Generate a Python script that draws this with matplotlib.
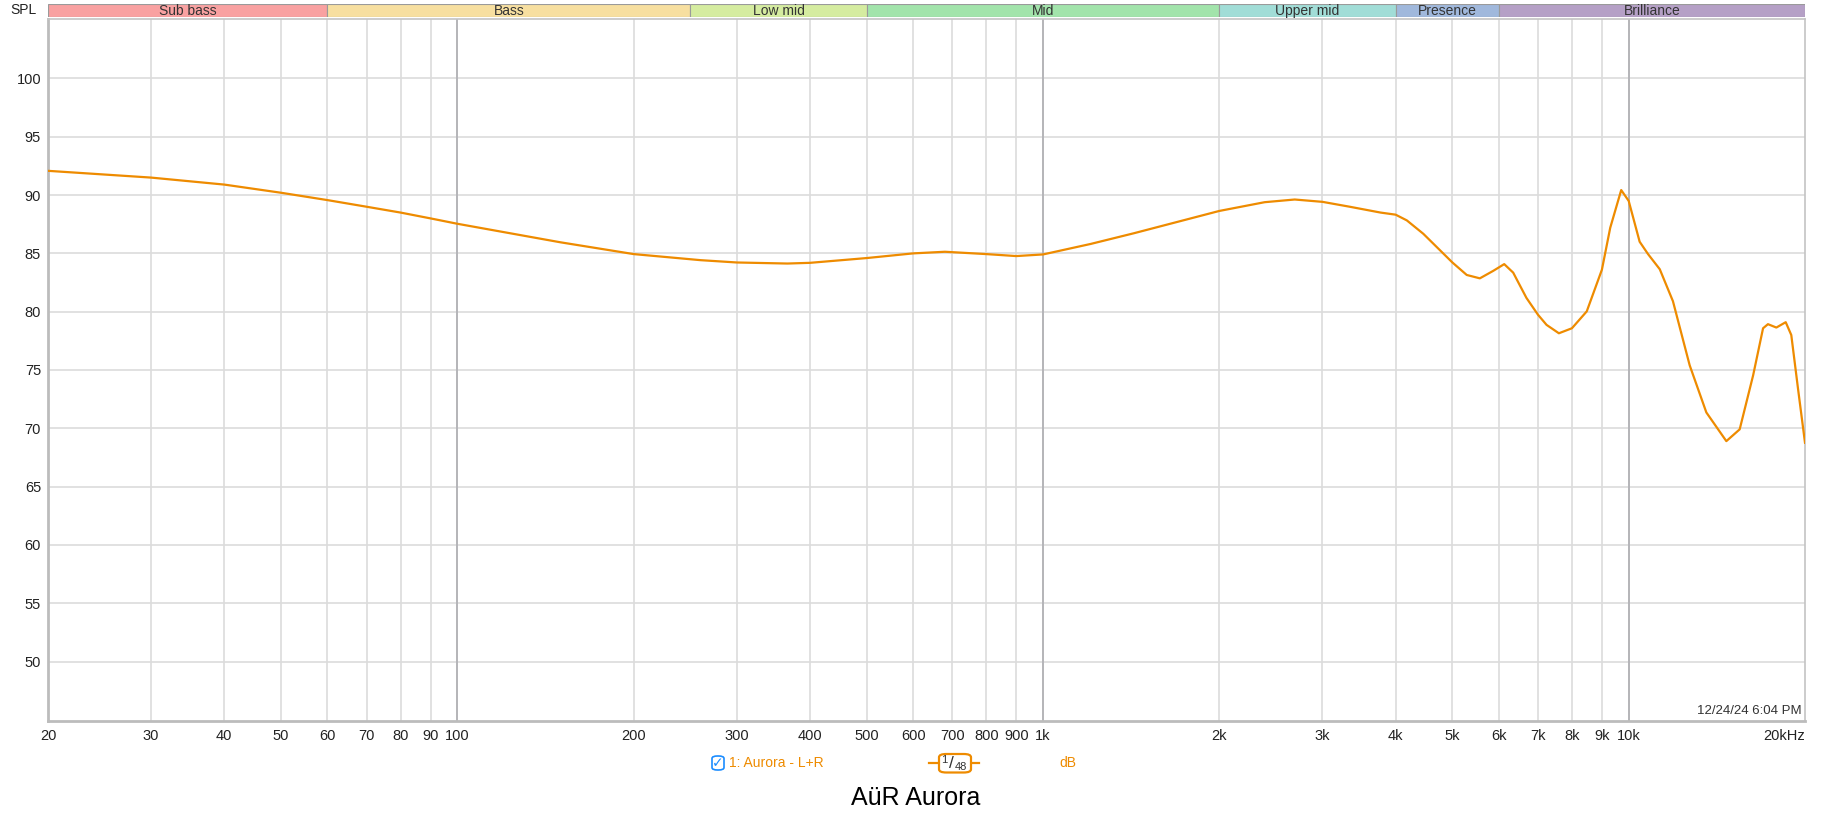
import matplotlib
matplotlib.use('Agg')
import matplotlib.pyplot as plt
from matplotlib.patches import FancyBboxPatch
from matplotlib.lines import Line2D

plt.rcParams['font.family'] = ['Liberation Sans', 'DejaVu Sans']

# frequency response (Hz, dB SPL)
freqs = [20, 30, 40, 50, 60, 70, 80, 90, 100, 150, 200, 260, 300, 366, 400,
         500, 600, 680, 800, 900, 1000, 1206, 1430, 2000, 2390, 2690, 3000,
         3340, 3770, 4000, 4180, 4460, 5000, 5290, 5570, 5870, 6130, 6350,
         6690, 7000, 7240, 7600, 8000, 8480, 9000, 9300, 9710, 10000, 10440,
         10790, 11300, 11900, 12710, 13570, 14680, 15470, 16310, 16960, 17290,
         17870, 18540, 18950, 19460, 20000]
spl = [92.08, 91.5, 90.9, 90.2, 89.57, 89.0, 88.5, 88.0, 87.54, 85.95, 84.94,
       84.42, 84.22, 84.13, 84.19, 84.6, 85.0, 85.14, 84.94, 84.77, 84.91,
       85.81, 86.73, 88.64, 89.39, 89.62, 89.42, 89.0, 88.5, 88.32, 87.83,
       86.68, 84.22, 83.15, 82.86, 83.5, 84.08, 83.35, 81.18, 79.74, 78.87,
       78.15, 78.58, 80.03, 83.6, 87.2, 90.43, 89.5, 86.0, 84.94, 83.64, 80.9,
       75.4, 71.36, 68.9, 69.91, 74.54, 78.58, 78.93, 78.64, 79.1, 78.0, 73.38,
       68.76]

# frequency bands shown above the plot
band_names = ['Sub bass', 'Bass', 'Low mid', 'Mid', 'Upper mid', 'Presence', 'Brilliance']
band_edges = [20, 60, 250, 500, 2000, 4000, 6000, 20000]
band_colors = ['#f9a1a1', '#f7dfa0', '#d5eca0', '#a2e4ab', '#a1ddd7', '#a0b8dc', '#b5a0c6']

minor_grid = [30, 40, 50, 60, 70, 80, 90, 200, 300, 400, 500, 600, 700, 800, 900,
              2000, 3000, 4000, 5000, 6000, 7000, 8000, 9000]
major_grid = [100, 1000, 10000]
x_ticks = [20, 30, 40, 50, 60, 70, 80, 90, 100, 200, 300, 400, 500, 600, 700, 800,
           900, 1000, 2000, 3000, 4000, 5000, 6000, 7000, 8000, 9000, 10000, 20000]
x_labels = ['20', '30', '40', '50', '60', '70', '80', '90', '100', '200', '300', '400',
            '500', '600', '700', '800', '900', '1k', '2k', '3k', '4k', '5k', '6k', '7k',
            '8k', '9k', '10k', '20kHz']
y_ticks = [50, 55, 60, 65, 70, 75, 80, 85, 90, 95, 100]

W, H = 1829, 817
fig = plt.figure(figsize=(W / 100, H / 100), dpi=100)

left, right, top, bottom = 48, 1805, 19, 721
ax = fig.add_axes([left / W, 1 - bottom / H, (right - left) / W, (bottom - top) / H])
ax.set_xscale('log')
ax.set_xlim(20, 20000)
ax.set_ylim(44.9, 105.1)

for y in y_ticks:
    ax.axhline(y, color='#dcdcdc', lw=1.2, zorder=1)
for f in minor_grid:
    ax.axvline(f, color='#dcdcdc', lw=1.2, zorder=1)
for f in major_grid:
    ax.axvline(f, color='#b4b4b8', lw=1.4, zorder=1)

ax.plot(freqs, spl, color='#ee8b00', lw=1.6, zorder=3,
        solid_joinstyle='round', antialiased=True)

ax.set_xticks(x_ticks)
ax.set_xticklabels(x_labels)
ax.xaxis.set_minor_locator(matplotlib.ticker.NullLocator())
ax.set_yticks(y_ticks)
ax.tick_params(axis='both', length=0, labelsize=10.5, colors='#222222')
ax.tick_params(axis='x', pad=6)
ax.tick_params(axis='y', pad=5)
xl = ax.get_xticklabels()
xl[-1].set_horizontalalignment('right')

for s in ['left', 'bottom']:
    ax.spines[s].set_color('#bcbcbc')
    ax.spines[s].set_linewidth(2)
for s in ['top', 'right']:
    ax.spines[s].set_color('#c4c4c4')
    ax.spines[s].set_linewidth(1.2)

ax.text(0.998, 0.006, '12/24/24 6:04 PM', transform=ax.transAxes, ha='right',
        va='bottom', fontsize=9.5, color='#333333')

# band strip on top
bax = fig.add_axes([left / W, 1 - 17 / H, (right - left) / W, 13.5 / H])
bax.set_xscale('log')
bax.set_xlim(20, 20000)
bax.set_ylim(0, 1)
bax.axis('off')
for i, name in enumerate(band_names):
    lo, hi = band_edges[i], band_edges[i + 1]
    bax.axvspan(lo, hi, facecolor=band_colors[i], edgecolor='#9a9a9a', lw=0.8)
    bax.text((lo * hi) ** 0.5, 0.45, name, ha='center', va='center',
             fontsize=10, color='#333333')
fig.text(23 / W, 1 - 9.5 / H, 'SPL', ha='center', va='center', fontsize=10, color='#222222')

# legend row
orange = '#ee8b00'
ly = 1 - 763 / H
fig.patches.append(FancyBboxPatch((712 / W, ly - 7 / H), 12 / W, 14 / H,
                                  boxstyle='round,pad=0,rounding_size=0.003',
                                  transform=fig.transFigure, fc='white',
                                  ec='#1a8cff', lw=1.2))
fig.text(718 / W, ly, '\u2713', ha='center', va='center', fontsize=10,
         color='#1a8cff', family='DejaVu Sans')
fig.text(729 / W, ly, '1: Aurora - L+R', ha='left', va='center', fontsize=10, color=orange)

# smoothing badge
fig.lines.append(Line2D([929 / W, 979 / W], [ly, ly], transform=fig.transFigure,
                        color=orange, lw=1.6, zorder=1))
fig.patches.append(FancyBboxPatch((939 / W, 1 - 772.5 / H), 32 / W, 18.5 / H,
                                  boxstyle='round,pad=0,rounding_size=0.004',
                                  transform=fig.transFigure, fc='white', ec=orange,
                                  lw=1.6, zorder=2))
fig.text(944 / W, 1 - 760 / H, '1', ha='center', va='center', fontsize=8,
         color='#333333', zorder=3)
fig.text(951 / W, 1 - 763 / H, '/', ha='center', va='center', fontsize=12.5,
         color='#333333', zorder=3)
fig.text(961 / W, 1 - 767.5 / H, '48', ha='center', va='center', fontsize=8,
         color='#333333', zorder=3)
fig.text(1068 / W, ly, 'dB', ha='center', va='center', fontsize=10, color=orange)

fig.text(916 / W, 1 - 798 / H, 'AüR Aurora', ha='center', va='center', fontsize=18, color='black')

fig.savefig('out.png', dpi=100)
